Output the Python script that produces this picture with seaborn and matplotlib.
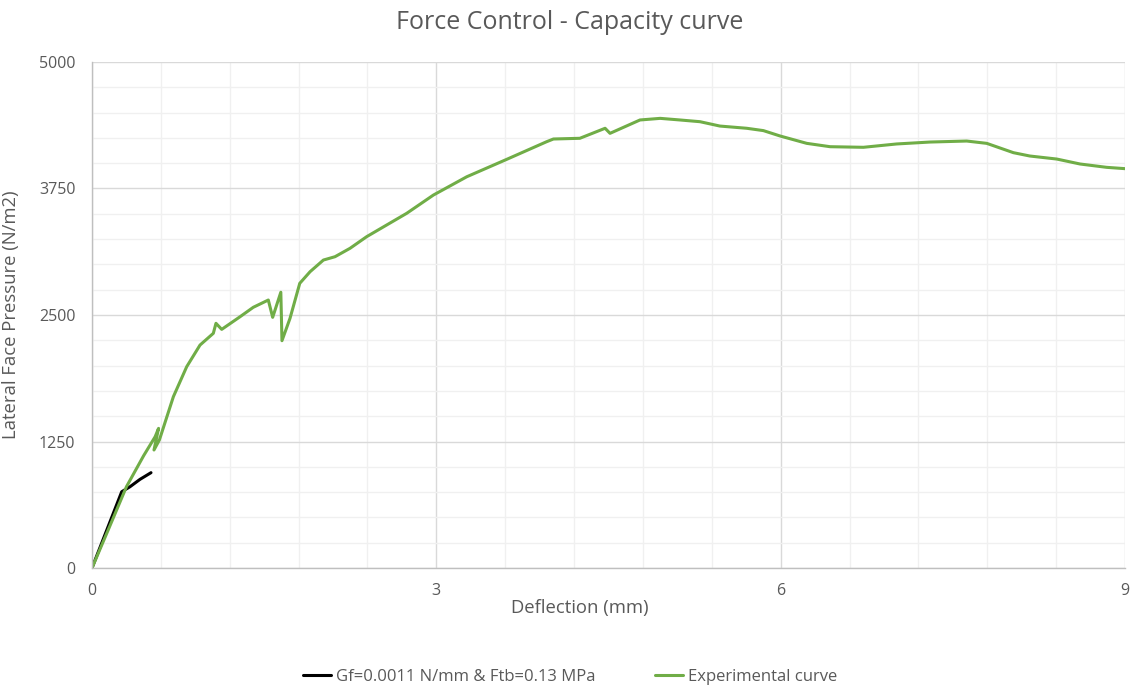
import matplotlib
matplotlib.use("Agg")
import matplotlib.pyplot as plt
from matplotlib.ticker import MultipleLocator
import seaborn as sns
import pandas as pd

# ---- data ----
green_x = [0, 0.15, 0.30, 0.45, 0.55, 0.58, 0.54, 0.587, 0.709, 0.825, 0.941, 1.057,
           1.08, 1.13, 1.29, 1.405, 1.536, 1.574, 1.645, 1.655, 1.725, 1.81, 1.90,
           2.016, 2.117, 2.248, 2.393, 2.742, 2.974, 3.265, 3.613, 3.96, 4.02, 4.25,
           4.47, 4.513, 4.774, 4.95, 5.123, 5.297, 5.47, 5.704, 5.849, 5.994, 6.227,
           6.43, 6.72, 7.01, 7.3, 7.62, 7.795, 8.027, 8.17, 8.405, 8.608, 8.84, 9.0]
green_y = [0, 400, 803, 1110, 1297, 1380, 1166, 1265, 1693, 1989, 2203, 2319,
           2418, 2358, 2483, 2576, 2648, 2477, 2725, 2246, 2467, 2813, 2928,
           3043, 3076, 3159, 3274, 3505, 3685, 3866, 4038, 4212, 4239, 4246,
           4345, 4295, 4427, 4443, 4427, 4410, 4367, 4345, 4322, 4269, 4196,
           4163, 4157, 4190, 4209, 4219, 4196, 4104, 4071, 4041, 3992, 3959, 3946]
black_x = [0, 0.259, 0.331, 0.418, 0.514]
black_y = [0, 754, 803, 876, 942]
series_names = ["Gf=0.0011 N/mm & Ftb=0.13 MPa", "Experimental curve"]
x_ticks = [0, 3, 6, 9]
y_ticks = [0, 1250, 2500, 3750, 5000]

sns.set_theme(style="white")
plt.rcParams['font.family'] = ['Open Sans', 'DejaVu Sans']

fig = plt.figure(figsize=(11.33, 6.88), dpi=100)
ax = fig.add_axes([0.0812, 0.1744, 0.9118, 0.7355])

df_b = pd.DataFrame({"x": black_x, "y": black_y, "s": series_names[0]})
df_g = pd.DataFrame({"x": green_x, "y": green_y, "s": series_names[1]})

sns.lineplot(data=df_b, x="x", y="y", sort=False, estimator=None, color="black",
             linewidth=2.2, ax=ax, label=series_names[0])
sns.lineplot(data=df_g, x="x", y="y", sort=False, estimator=None, color="#70AD47",
             linewidth=2.2, ax=ax, label=series_names[1])

ax.set_xlim(0, 9)
ax.set_ylim(0, 5000)
ax.set_xticks(x_ticks)
ax.set_yticks(y_ticks)
ax.xaxis.set_minor_locator(MultipleLocator(0.6))
ax.yaxis.set_minor_locator(MultipleLocator(250))
ax.grid(True, which="major", color="#d9d9d9", linewidth=1.0)
ax.grid(True, which="minor", color="#f0f0f0", linewidth=1.0)
ax.set_axisbelow(True)
ax.tick_params(which="both", length=0, colors="#595959", labelsize=11.5)
ax.tick_params(axis="x", pad=11)
ax.tick_params(axis="y", pad=12)
for sp in ["top", "right"]:
    ax.spines[sp].set_visible(False)
for sp in ["left", "bottom"]:
    ax.spines[sp].set_color("#bfbfbf")
    ax.spines[sp].set_linewidth(1.0)

ax.set_xlabel("Deflection (mm)", fontsize=13.3, color="#595959")
ax.set_ylabel("Lateral Face Pressure (N/m2)", fontsize=13.3, color="#595959")
ax.xaxis.set_label_coords(0.472, -0.062)
ax.yaxis.set_label_coords(-0.07, 0.5)

fig.text(0.503, 0.967, "Force Control - Capacity curve", ha="center", va="center",
         fontsize=18, color="#595959")

ax.get_legend().remove()
handles, labels = ax.get_legend_handles_labels()
fig.legend(handles, labels, loc="center", bbox_to_anchor=(0.503, 0.016), ncol=2,
           frameon=False, fontsize=12, labelcolor="#595959", handlelength=1.7,
           columnspacing=3.6, handletextpad=0.25)

fig.savefig("out.png", dpi=100)
